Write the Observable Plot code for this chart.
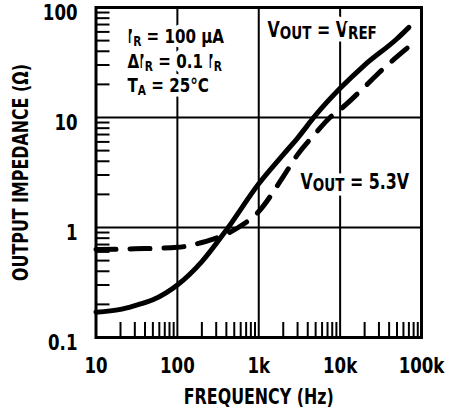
<!DOCTYPE html>
<html><head><meta charset="utf-8">
<script src="https://cdn.jsdelivr.net/npm/d3@7"></script>
<script src="https://cdn.jsdelivr.net/npm/@observablehq/plot@0.6"></script>
<style>
body{margin:0;background:#fff} svg{display:block}
</style>
</head><body><div id="chart"></div>
<script>
// Data (frequency in Hz, impedance in ohms)
const solidFreq = [10, 20, 30, 50, 100, 200, 400, 1000, 2000, 3000, 5000, 10000, 20000, 50000, 70000];
const solidZ    = [0.17, 0.18, 0.195, 0.22, 0.3, 0.49, 0.95, 2.5, 4.6, 6.5, 10.5, 18.4, 30, 52, 66];
const dashFreq  = [10, 30, 100, 200, 300, 560, 1000, 2000, 3000, 5000, 7500, 10000, 20000, 30000, 70000];
const dashZ     = [0.63, 0.64, 0.66, 0.73, 0.8, 1.0, 1.4, 2.9, 4.6, 7.2, 10, 11.8, 19, 25.5, 44];

const xTicks = [10, 100, 1000, 10000, 100000];
const xTickLabels = ["10", "100", "1k", "10k", "100k"];
const yTicks = [0.1, 1, 10, 100];
const yTickLabels = ["0.1", "1", "10", "100"];
const mults = [2, 3, 4, 5, 6, 7, 8, 9];
const xDecades = [10, 100, 1000, 10000];
const yDecades = [0.1, 1, 10];

const paramLines = ["I_{R} = 100 μA", "ΔI_{R} = 0.1 I_{R}", "T_{A} = 25°C"];
const paramFreq = [24.4, 24.4, 24.4];
const paramZ = [47.1, 28.2, 16.9];
const curveLabels = ["V_{OUT} = V_{REF}", "V_{OUT} = 5.3V"];
const curveLabelFreq = [1282, 3260];
const curveLabelZ = [53.4, 2.24];

const xTitle = "FREQUENCY (Hz)";
const yTitle = "OUTPUT IMPEDANCE (Ω)";

// Build tables
const solid = solidFreq.map((f, i) => ({f, z: solidZ[i]}));
const dashed = dashFreq.map((f, i) => ({f, z: dashZ[i]}));
const xMinor = xDecades.flatMap(d => mults.map(m => d * m));
const yMinor = yDecades.flatMap(d => mults.map(m => d * m));
const params = paramLines.map((t, i) => ({t, f: paramFreq[i], z: paramZ[i]}));
const cLabels = curveLabels.map((t, i) => ({t, f: curveLabelFreq[i], z: curveLabelZ[i]}));
const xT = xTicks.map((v, i) => ({v, t: xTickLabels[i]}));
const yT = yTicks.map((v, i) => ({v, t: yTickLabels[i]}));

const W = 452, H = 414;
const mL = 95.5, mR = 31, mT = 7, mB = 77;
const plotW = W - mL - mR, plotH = H - mT - mB;
const font = "'DejaVu Sans Condensed', 'DejaVu Sans', sans-serif";
const condense = 0.84; // horizontal squeeze to mimic a condensed bold face

const chart = Plot.plot({
  width: W, height: H,
  marginLeft: mL, marginRight: mR, marginTop: mT, marginBottom: mB,
  x: {type: "log", domain: [10, 1e5], axis: null},
  y: {type: "log", domain: [0.1, 100], axis: null},
  style: {fontFamily: font, fontWeight: "bold", background: "white", color: "black"},
  marks: [
    Plot.ruleX([100, 1000, 10000], {stroke: "black", strokeWidth: 2}),
    Plot.ruleY([1, 10], {stroke: "black", strokeWidth: 2}),
    Plot.ruleX(xMinor, {stroke: "black", strokeWidth: 2, insetTop: plotH - 15}),
    Plot.ruleY(yMinor, {stroke: "black", strokeWidth: 2, insetRight: plotW - 14}),
    Plot.line(solid, {x: "f", y: "z", curve: "monotone-x", stroke: "black", strokeWidth: 5}),
    Plot.line(dashed, {x: "f", y: "z", curve: "monotone-x", stroke: "black", strokeWidth: 5,
      strokeDasharray: "20,14", strokeLinecap: "round"}),
    Plot.text(params, {x: "f", y: "z", text: "t", textAnchor: "start", lineAnchor: "bottom",
      fontSize: 20, fontWeight: "bold", fill: "black", stroke: "white", strokeWidth: 9, className: "params"}),
    Plot.text(cLabels, {x: "f", y: "z", text: "t", textAnchor: "start", lineAnchor: "bottom",
      fontSize: 21, fontWeight: "bold", fill: "black", stroke: "white", strokeWidth: 9, className: "vnotes"}),
    Plot.text(xT, {x: "v", text: "t", frameAnchor: "bottom", lineAnchor: "middle", dy: 28,
      fontSize: 22, fontWeight: "bold", fill: "black"}),
    Plot.text(yT, {y: "v", text: "t", frameAnchor: "left", textAnchor: "end", lineAnchor: "middle",
      dx: -18.5, dy: 5, fontSize: 22, fontWeight: "bold", fill: "black"}),
    Plot.text([xTitle], {frameAnchor: "bottom", lineAnchor: "middle", dy: 60,
      fontSize: 21, fontWeight: "bold", fill: "black"}),
    Plot.text([yTitle], {frameAnchor: "left", rotate: -90, textAnchor: "middle", lineAnchor: "middle", dx: -74.5,
      fontSize: 21, fontWeight: "bold", fill: "black"}),
    Plot.frame({stroke: "black", strokeWidth: 3})
  ]
});

// Turn _{...} markup into subscript tspans
function subscripts(sel, size, shift) {
  sel.selectAll("text").each(function () {
    const t = this.textContent;
    if (!t.includes("_{")) return;
    const el = d3.select(this);
    el.text(null);
    let shifted = false;
    t.split(/(_\{[^}]*\})/).filter(s => s).forEach(p => {
      if (p.startsWith("_{")) {
        el.append("tspan").attr("font-size", size).attr("dy", shift).text(p.slice(2, -1));
        shifted = true;
      } else {
        const ts = el.append("tspan").text(p);
        if (shifted) { ts.attr("dy", -shift); shifted = false; }
      }
    });
  });
}
subscripts(d3.select(chart).selectAll(".params"), "70%", 3);
subscripts(d3.select(chart).selectAll(".vnotes"), "85%", 2);

// Squeeze every label along its own direction, around its anchor (condensed look)
d3.select(chart).selectAll("text").each(function () {
  const tr = this.getAttribute("transform") || "";
  this.setAttribute("transform", `${tr} scale(${condense},1)`);
});

document.getElementById("chart").appendChild(chart);
</script>
</body></html>
